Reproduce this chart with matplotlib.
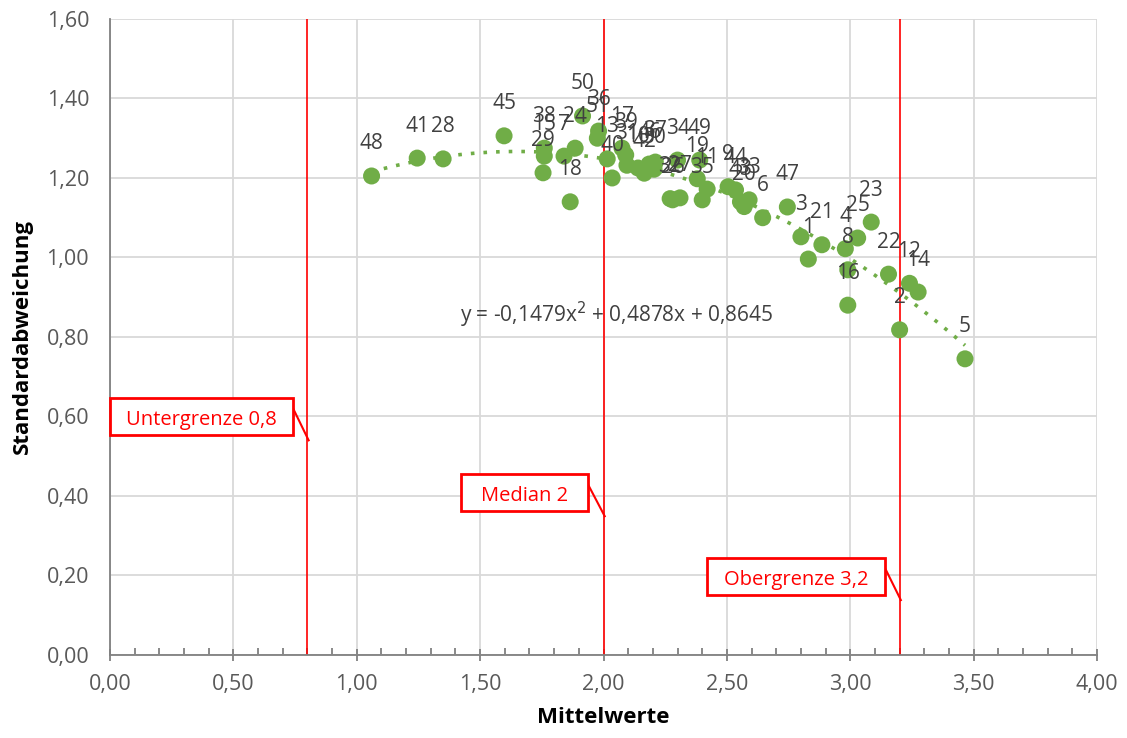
import matplotlib
matplotlib.use("Agg")
import matplotlib.pyplot as plt
import numpy as np
from matplotlib.ticker import MultipleLocator, FuncFormatter

plt.rcParams['font.family'] = ['Open Sans', 'DejaVu Sans']

# Datenpunkte: Nummer, Mittelwert, Standardabweichung
labels = ['1', '2', '3', '4', '5', '6', '7', '8', '9', '10',
          '11', '12', '13', '14', '15', '16', '17', '18', '19', '20',
          '21', '22', '23', '24', '25', '26', '27', '28', '29', '30',
          '31', '32', '33', '34', '35', '36', '37', '38', '39', '40',
          '41', '42', '43', '44', '45', '46', '47', '48', '49', '50', '51']
mittelwerte = [2.83, 3.20, 2.80, 2.98, 3.465, 2.645, 1.84, 2.99, 2.505, 2.14,
               2.42, 3.24, 2.015, 3.275, 1.76, 2.99, 2.075, 1.865, 2.38, 2.57,
               2.885, 3.155, 3.085, 1.885, 3.03, 2.28, 2.31, 1.35, 1.755, 2.205,
               2.095, 2.27, 2.59, 2.30, 2.40, 1.98, 2.21, 1.76, 2.09, 2.035,
               1.245, 2.165, 2.555, 2.535, 1.597, 2.185, 2.745, 1.06, 2.39, 1.915, 1.975]
stdabw = [0.996, 0.818, 1.052, 1.022, 0.745, 1.100, 1.255, 0.969, 1.178, 1.225,
          1.172, 0.935, 1.248, 0.913, 1.255, 0.880, 1.275, 1.140, 1.198, 1.128,
          1.032, 0.958, 1.089, 1.275, 1.049, 1.145, 1.150, 1.248, 1.213, 1.222,
          1.232, 1.148, 1.145, 1.245, 1.145, 1.318, 1.240, 1.275, 1.258, 1.200,
          1.250, 1.212, 1.140, 1.170, 1.306, 1.235, 1.127, 1.205, 1.245, 1.356, 1.300]

# Trendlinie (Polynom 2. Grades) wie im Diagramm angegeben
trend_koeff = [-0.1479, 0.4878, 0.8645]

# Grenzen
grenzen = [0.8, 2.0, 3.2]
grenz_texte = ['Untergrenze 0,8', 'Median 2', 'Obergrenze 3,2']

gruen = '#70AD47'
rot = '#FF0000'
grau_text = '#404040'

fig = plt.figure(figsize=(11.27, 7.38), dpi=100)
ax = fig.add_axes([0.0976, 0.1125, 0.8758, 0.8618])

ax.set_xlim(0, 4)
ax.set_ylim(0, 1.6)
ax.xaxis.set_major_locator(MultipleLocator(0.5))
ax.xaxis.set_minor_locator(MultipleLocator(0.1))
ax.yaxis.set_major_locator(MultipleLocator(0.2))
fmt = FuncFormatter(lambda v, p: ('%.2f' % v).replace('.', ','))
ax.xaxis.set_major_formatter(fmt)
ax.yaxis.set_major_formatter(fmt)
ax.grid(True, which='major', color='#D9D9D9', linewidth=1.3)
ax.set_axisbelow(True)
for s in ['top', 'right']:
    ax.spines[s].set_visible(False)
for s in ['left', 'bottom']:
    ax.spines[s].set_color('#808080')
    ax.spines[s].set_linewidth(1.3)
ax.tick_params(axis='x', which='major', direction='inout', length=9, width=1.3,
               color='#808080', labelsize=15.5, labelcolor='#595959', pad=9)
ax.tick_params(axis='x', which='minor', direction='in', length=5, width=1.3, color='#808080')
ax.tick_params(axis='y', which='major', length=0, labelsize=15.5, labelcolor='#595959', pad=15)
ax.set_xlabel('Mittelwerte', fontsize=16, fontweight='bold', color='black', labelpad=9)
ax.set_ylabel('Standardabweichung', fontsize=16, fontweight='bold', color='black', labelpad=10)

# Grenzlinien
for g in grenzen:
    ax.axvline(g, color=rot, linewidth=1.2, zorder=2)

# Trendlinie
xs = np.linspace(min(mittelwerte), max(mittelwerte), 200)
ax.plot(xs, np.polyval(trend_koeff, xs), color=gruen, linestyle=(0, (1, 2.5)),
        linewidth=2.6, zorder=3)

ax.scatter(mittelwerte, stdabw, s=150, color=gruen, edgecolors='none', zorder=4)

for lab, x, y in zip(labels, mittelwerte, stdabw):
    ax.annotate(lab, (x, y), xytext=(0, 32), textcoords='offset pixels',
                ha='center', va='center', fontsize=15, color=grau_text, zorder=5)

gl = ('y = %.4fx$^2$ + %.4fx + %.4f' % tuple(trend_koeff)).replace('.', ',')
ax.text(1.42, 0.855, gl, fontsize=15, color=grau_text, va='center', ha='left', zorder=5)

# Legenden-Kästen mit Zeiger
boxes = [(0.0, 0.553, 0.742, 0.0935), (1.4225, 0.362, 0.5145, 0.0935), (2.419, 0.151, 0.722, 0.0935)]
for (bx, by, bw, bh), g, t in zip(boxes, grenzen, grenz_texte):
    ax.plot([bx + bw, g + 0.005], [by + bh * 0.72, by - 0.013], color=rot, linewidth=1.5,
            zorder=6, clip_on=False)
    rect = plt.Rectangle((bx, by), bw, bh, facecolor='white', edgecolor=rot,
                         linewidth=2, zorder=7, clip_on=False)
    ax.add_patch(rect)
    ax.text(bx + bw / 2, by + bh * 0.4, t, ha='center', va='center', fontsize=14.5,
            color=rot, zorder=8)

fig.savefig('out.png', dpi=100)
